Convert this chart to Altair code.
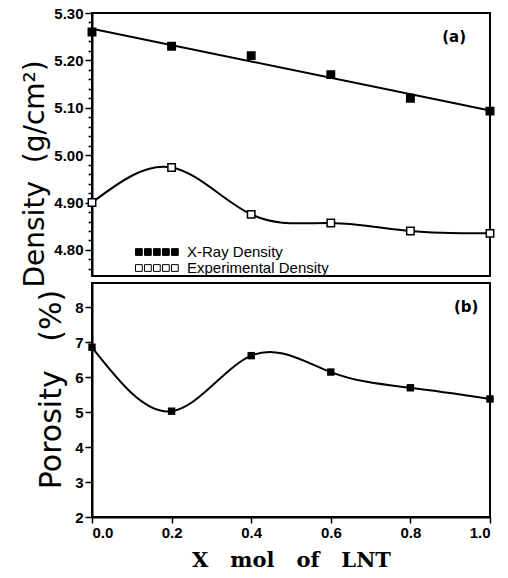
import altair as alt
import pandas as pd

x_mol = [0.0, 0.2, 0.4, 0.6, 0.8, 1.0]
xray_density = [5.26, 5.23, 5.21, 5.17, 5.12, 5.093]
exp_density = [4.90, 4.974, 4.875, 4.857, 4.84, 4.835]
porosity = [6.86, 5.03, 6.62, 6.15, 5.70, 5.38]
series_names = ["X-Ray Density", "Experimental Density"]
porosity_ticks = [2, 3, 4, 5, 6, 7, 8]
x_ticks = [0.0, 0.2, 0.4, 0.6, 0.8, 1.0]

dens = pd.DataFrame({
    "x": x_mol * 2,
    "density": xray_density + exp_density,
    "series": [series_names[0]] * 6 + [series_names[1]] * 6,
})
por = pd.DataFrame({"x": x_mol, "porosity": porosity})
lab_a = pd.DataFrame({"x": [0.91], "density": [5.25], "t": ["(a)"]})
lab_b = pd.DataFrame({"x": [0.94], "porosity": [8.0], "t": ["(b)"]})

NB = "\u00a0"
W = 398
LF = "Liberation Sans"
xs = alt.Scale(domain=[0, 1.0], nice=False, zero=False)
minor_density = [round(4.76 + 0.02 * i, 2) for i in range(28)]
is_major = "abs(round(datum.value*10) - datum.value*10) < 0.001"

common_axis = dict(
    labelFont=LF, labelFontSize=15, labelFontWeight="bold", labelColor="black",
    labelOverlap=False, labelPadding=2, titleFont="DejaVu Sans", titleColor="black",
    domainColor="black", domainWidth=2, tickColor="black", tickWidth=1.5, grid=False,
)

yd = alt.Y(
    "density:Q",
    scale=alt.Scale(domain=[4.745, 5.30], nice=False, zero=False),
    axis=alt.Axis(
        values=minor_density,
        labelExpr=is_major + " ? format(datum.value, '.2f') : ''",
        tickSize={"condition": {"test": is_major, "value": 7}, "value": 4},
        title="Density" + NB * 2 + "(g/cm²)",
        titleFontSize=28,
        titleFontWeight="normal",
        titlePadding=4,
        titleY=274,
        titleAngle=270,
        titleAlign="left",
        **common_axis,
    ),
)

xray_df = dens[dens.series == series_names[0]]
exp_df = dens[dens.series == series_names[1]]

five_squares = " ".join(
    f"M{x0:.2f},-0.45h0.9v0.9h-0.9z" for x0 in [-5.4, -4.2, -3.0, -1.8, -0.6]
)

fill_enc = alt.Fill(
    "series:N",
    scale=alt.Scale(domain=series_names, range=["black", "white"]),
    legend=alt.Legend(
        orient="none", legendX=76, legendY=231, title=None,
        symbolType=five_squares, symbolStrokeColor="black", symbolStrokeWidth=1,
        symbolSize=225, labelFont=LF, labelFontSize=15,
        labelColor="black", rowPadding=0, labelOffset=3,
    ),
)

X_top = alt.X("x:Q", scale=xs, axis=None)

reg = alt.Chart(xray_df).transform_regression("x", "density").mark_line(
    color="black", strokeWidth=2
).encode(x=X_top, y=yd)

exp_line = alt.Chart(exp_df).mark_line(color="black", strokeWidth=2, interpolate="natural").encode(
    x=X_top, y=yd
)

pts = alt.Chart(dens).mark_square(size=55, stroke="black", strokeWidth=1.5, opacity=1).encode(
    x=X_top, y=yd, fill=fill_enc
)

ta = alt.Chart(lab_a).mark_text(fontSize=15, fontWeight="bold", font="DejaVu Sans", color="black").encode(
    x=X_top, y=yd, text="t:N"
)

top = alt.layer(reg, exp_line, pts, ta).properties(width=W, height=263)

yp = alt.Y(
    "porosity:Q",
    scale=alt.Scale(domain=[2, 8.7], nice=False, zero=False),
    axis=alt.Axis(
        values=porosity_ticks,
        format="d",
        tickSize=7,
        title="Porosity" + NB * 3 + "(%)",
        titleFontSize=30,
        titleFontWeight="normal",
        titlePadding=8,
        titleY=106,
        **common_axis,
    ),
)
xp = alt.X(
    "x:Q", scale=xs,
    axis=alt.Axis(
        values=x_ticks, format=".1f", tickSize=6,
        title=(NB * 3).join(["X", "mol", "of", "LNT"]), titleFontSize=21,
        titleFontWeight="bold", titlePadding=9,
        **{**common_axis, "titleFont": "DejaVu Serif"},
    ),
)
por_line = alt.Chart(por).mark_line(color="black", strokeWidth=2, interpolate="natural").encode(x=xp, y=yp)
por_pts = alt.Chart(por).mark_square(size=55, color="black", opacity=1).encode(x=xp, y=yp)
tb = alt.Chart(lab_b).mark_text(fontSize=15, fontWeight="bold", font="DejaVu Sans", color="black").encode(
    x=xp, y=yp, text="t:N"
)
bottom = alt.layer(por_line, por_pts, tb).properties(width=W, height=234)

chart = alt.vconcat(top, bottom, spacing=7, bounds="flush").properties(
    padding={"left": 20, "top": 5, "right": 5, "bottom": 2},
    background="white",
).configure_view(stroke="black", strokeWidth=2)

chart.save("out.html", embed_options={"renderer": "svg", "actions": False})
